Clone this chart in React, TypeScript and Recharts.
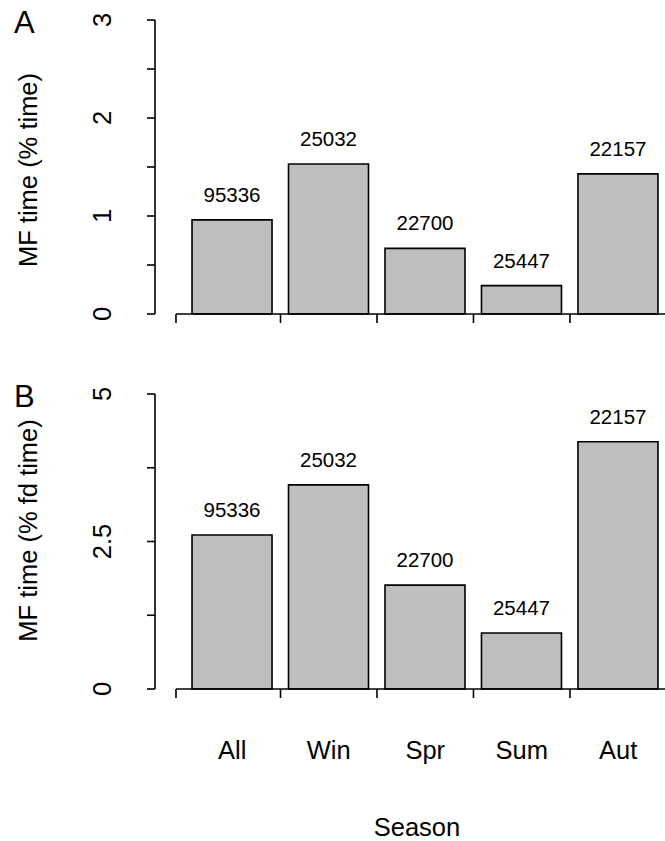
import React from 'react';
import { BarChart, Bar, XAxis, YAxis, ReferenceLine, LabelList } from 'recharts';

const seasons = ['All', 'Win', 'Spr', 'Sum', 'Aut'];
const counts = [95336, 25032, 22700, 25447, 22157];
const pctTime = [0.96, 1.53, 0.67, 0.29, 1.43];
const pctFdTime = [2.61, 3.46, 1.76, 0.95, 4.19];
const barCenters = [0.7, 1.9, 3.1, 4.3, 5.5];
const xBoundaryTicks = [0, 1.3, 2.5, 3.7, 4.9];
const yTicksA = [0, 0.5, 1, 1.5, 2, 2.5, 3];
const yLabelsA = [0, 1, 2, 3];
const yTicksB = [0, 1.25, 2.5, 3.75, 5];
const yLabelsB = [0, 2.5, 5];

const FONT = '"Liberation Sans", Arial, Helvetica, sans-serif';
const X_DOMAIN: [number, number] = [-0.261, 6.082];
const LINE = 1.6;

function makeRows(values: number[]) {
  return seasons.map((s, i) => ({ pos: barCenters[i], season: s, n: counts[i], v: values[i] }));
}

const makeXTick = (showLabels: boolean) => (props: any) => {
  const { x, y, payload } = props;
  const ci = barCenters.indexOf(payload.value);
  if (ci >= 0) {
    if (!showLabels) return <g />;
    return (
      <text x={x} y={y + 70} textAnchor="middle" fontSize={25.5} fill="#000" fontFamily={FONT}>
        {seasons[ci]}
      </text>
    );
  }
  return <line x1={x} y1={y} x2={x} y2={y + 9} stroke="#000" strokeWidth={LINE} />;
};

const makeYTick = (labels: number[]) => (props: any) => {
  const { y, payload } = props;
  if (!labels.includes(payload.value)) return <g />;
  return (
    <text
      transform={`translate(111,${y}) rotate(-90)`}
      textAnchor="middle"
      fontSize={25.5}
      fill="#000"
      fontFamily={FONT}
    >
      {String(payload.value)}
    </text>
  );
};

const YTitle = (props: any) => {
  const { viewBox, title, letter, dyCenter, letterY } = props;
  const cy = viewBox.y + viewBox.height / 2 + dyCenter;
  return (
    <g>
      <text
        transform={`translate(37,${cy}) rotate(-90)`}
        textAnchor="middle"
        fontSize={25.5}
        fill="#000"
        fontFamily={FONT}
      >
        {title}
      </text>
      <text x={14} y={letterY} fontSize={31} fill="#000" fontFamily={FONT}>
        {letter}
      </text>
    </g>
  );
};

const SeasonLabel = (props: any) => {
  const { viewBox } = props;
  return (
    <text x={417} y={viewBox.y + 147} textAnchor="middle" fontSize={25.5} fill="#000" fontFamily={FONT}>
      Season
    </text>
  );
};

const barLabel = (p: any) => (
  <text x={p.x + p.width / 2} y={p.y - 18} textAnchor="middle" fontSize={20.5} fill="#000" fontFamily={FONT}>
    {p.value}
  </text>
);

function Panel(props: {
  values: number[];
  yDomain: [number, number];
  yTicks: number[];
  yLabels: number[];
  height: number;
  marginTop: number;
  xAxisHeight: number;
  marginBottom: number;
  title: string;
  letter: string;
  dyCenter: number;
  letterY: number;
  showCats: boolean;
}) {
  const rows = makeRows(props.values);
  return (
    <BarChart
      width={665}
      height={props.height}
      data={rows}
      margin={{ top: props.marginTop, right: 0, left: 0, bottom: props.marginBottom }}
    >
      <XAxis
        dataKey="pos"
        type="number"
        domain={X_DOMAIN}
        allowDataOverflow
        ticks={[...xBoundaryTicks, ...barCenters]}
        interval={0}
        axisLine={false}
        tickLine={false}
        tickSize={0}
        tickMargin={0}
        height={props.xAxisHeight}
        tick={makeXTick(props.showCats)}
        label={props.showCats ? <SeasonLabel /> : undefined}
      />
      <YAxis
        type="number"
        domain={props.yDomain}
        ticks={props.yTicks}
        interval={0}
        width={155}
        tickSize={8}
        tickMargin={2}
        axisLine={{ stroke: '#000', strokeWidth: LINE }}
        tickLine={{ stroke: '#000', strokeWidth: LINE }}
        tick={makeYTick(props.yLabels)}
        label={<YTitle title={props.title} letter={props.letter} dyCenter={props.dyCenter} letterY={props.letterY} />}
      />
      <ReferenceLine
        segment={[{ x: 0, y: 0 }, { x: X_DOMAIN[1], y: 0 }]}
        stroke="#000"
        strokeWidth={LINE}
        ifOverflow="visible"
      />
      <Bar dataKey="v" fill="#bebebe" stroke="#000" strokeWidth={LINE} barSize={80} isAnimationActive={false}>
        <LabelList dataKey="n" content={barLabel} />
      </Bar>
    </BarChart>
  );
}

export default function App() {
  return (
    <div
      style={{
        position: 'absolute',
        top: 0,
        left: 0,
        width: 665,
        height: 841,
        overflow: 'hidden',
        background: '#fff',
        fontFamily: FONT,
      }}
    >
      <div style={{ position: 'absolute', top: 0, left: 0 }}>
        <Panel
          values={pctTime}
          yDomain={[0, 3]}
          yTicks={yTicksA}
          yLabels={yLabelsA}
          height={370}
          marginTop={20}
          xAxisHeight={30}
          marginBottom={26}
          title="MF time (% time)"
          letter="A"
          dyCenter={3}
          letterY={33}
          showCats={false}
        />
      </div>
      <div style={{ position: 'absolute', top: 370, left: 0 }}>
        <Panel
          values={pctFdTime}
          yDomain={[0, 5]}
          yTicks={yTicksB}
          yLabels={yLabelsB}
          height={471}
          marginTop={24}
          xAxisHeight={152}
          marginBottom={0}
          title="MF time (% fd time)"
          letter="B"
          dyCenter={-11}
          letterY={37}
          showCats={true}
        />
      </div>
    </div>
  );
}
